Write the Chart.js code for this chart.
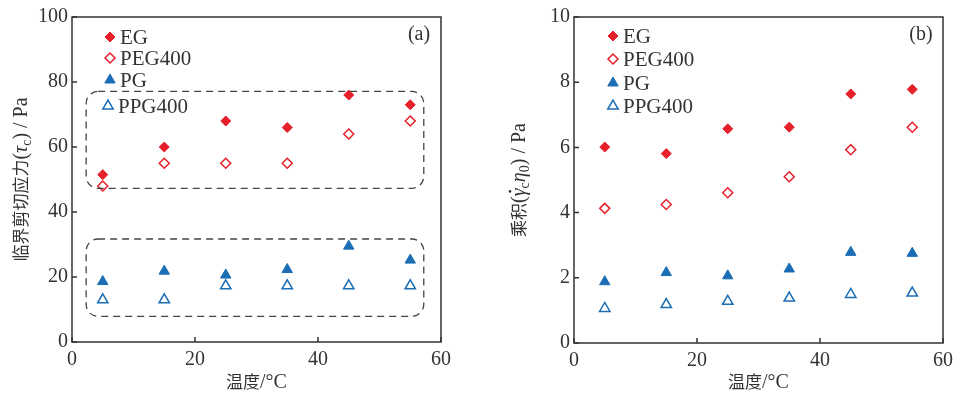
<!DOCTYPE html>
<html>
<head>
<meta charset="utf-8">
<script src="https://cdn.jsdelivr.net/npm/chart.js@4/dist/chart.umd.min.js"></script>
<style>
  html, body { margin: 0; padding: 0; background: #fff; }
  .wrap { position: absolute; top: 0; height: 394px; }
  #wa { left: 0; width: 480px; }
  #wb { left: 480px; width: 479px; }
</style>
</head>
<body>
<div class="wrap" id="wa"><canvas id="chartA"></canvas></div>
<div class="wrap" id="wb"><canvas id="chartB"></canvas></div>
<script>
// Data
const temps = [5, 15, 25, 35, 45, 55];
const seriesNames = ['EG', 'PEG400', 'PG', 'PPG400'];

// (a) critical shear stress, Pa
const tauEG = [51.5, 60, 68, 66, 76, 73];
const tauPEG = [48, 55, 55, 55, 64, 68];
const tauPG = [18.6, 21.8, 20.6, 22.3, 29.5, 25.2];
const tauPPG = [13, 13, 17.3, 17.3, 17.3, 17.3];

// (b) product gamma_c * eta_0, Pa
const prodEG = [6.01, 5.81, 6.57, 6.62, 7.64, 7.78];
const prodPEG = [4.13, 4.25, 4.61, 5.1, 5.93, 6.62];
const prodPG = [1.88, 2.16, 2.06, 2.27, 2.78, 2.75];
const prodPPG = [1.06, 1.18, 1.28, 1.38, 1.49, 1.53];

// dashed groups in panel (a), in data units
const boxesA = [
  { x0: 2.3, x1: 57.2, y0: 47.3, y1: 77.1 },
  { x0: 2.3, x1: 57.2, y0: 7.9, y1: 31.7 }
];

const RED = '#e5202a';
const BLUE = '#1b6db4';
const INK = '#333';
const SERIF = '"Liberation Serif", "DejaVu Serif", serif';
const CJK = '"Noto Sans CJK SC", sans-serif';

const styles = [
  { pointStyle: 'rectRot', fill: RED, stroke: RED, r: 5, bw: 1 },
  { pointStyle: 'rectRot', fill: '#fff', stroke: RED, r: 5, bw: 1.5 },
  { pointStyle: 'triangle', fill: BLUE, stroke: BLUE, r: 6, bw: 1 },
  { pointStyle: 'triangle', fill: '#fff', stroke: BLUE, r: 6, bw: 1.5 }
];

function drawMarker(ctx, s, x, y) {
  ctx.beginPath();
  if (s.pointStyle === 'rectRot') {
    ctx.moveTo(x, y - s.r);
    ctx.lineTo(x + s.r, y);
    ctx.lineTo(x, y + s.r);
    ctx.lineTo(x - s.r, y);
  } else {
    let rad = 0;
    for (let i = 0; i < 3; i++) {
      const px = x + Math.sin(rad) * s.r, py = y - Math.cos(rad) * s.r;
      i ? ctx.lineTo(px, py) : ctx.moveTo(px, py);
      rad += 2 * Math.PI / 3;
    }
  }
  ctx.closePath();
  ctx.fillStyle = s.fill;
  ctx.fill();
  ctx.lineWidth = s.bw;
  ctx.strokeStyle = s.stroke;
  ctx.stroke();
}

// mixed-font text (CJK + serif, subscripts), centred on cx,cy
function drawRuns(ctx, runs, cx, cy, rot) {
  ctx.save();
  ctx.translate(cx, cy);
  ctx.rotate(rot || 0);
  let total = 0;
  runs.forEach(r => { ctx.font = r.f; r.w = ctx.measureText(r.t).width; total += r.w; });
  let x = -total / 2;
  ctx.fillStyle = INK;
  ctx.textBaseline = 'alphabetic';
  ctx.textAlign = 'left';
  runs.forEach(r => {
    ctx.font = r.f;
    ctx.fillText(r.t, x, 6 + (r.dy || 0));
    if (r.dot) {
      // overdot for gamma
      ctx.beginPath();
      ctx.arc(x + r.w * 0.62, -9, 1.3, 0, Math.PI * 2);
      ctx.fill();
    }
    x += r.w;
  });
  ctx.restore();
}

const decor = {
  id: 'decor',
  afterDraw(chart, args, opts) {
    const { ctx, chartArea: a, scales: { x, y } } = chart;
    ctx.save();
    // frame
    ctx.strokeStyle = INK;
    ctx.lineWidth = 1.5;
    ctx.strokeRect(a.left, a.top, a.right - a.left, a.bottom - a.top);
    // inward ticks on bottom and left
    ctx.beginPath();
    x.ticks.forEach(t => {
      const px = x.getPixelForValue(t.value);
      ctx.moveTo(px, a.bottom); ctx.lineTo(px, a.bottom - 5);
    });
    y.ticks.forEach(t => {
      const py = y.getPixelForValue(t.value);
      ctx.moveTo(a.left, py); ctx.lineTo(a.left + 5, py);
    });
    ctx.stroke();
    // dashed group boxes
    (opts.boxes || []).forEach(b => {
      const l = x.getPixelForValue(b.x0), r = x.getPixelForValue(b.x1);
      const t = y.getPixelForValue(b.y1), btm = y.getPixelForValue(b.y0);
      ctx.beginPath();
      ctx.setLineDash([7, 5]);
      ctx.lineWidth = 1.3;
      ctx.strokeStyle = '#444';
      ctx.roundRect(l, t, r - l, btm - t, 12);
      ctx.stroke();
      ctx.setLineDash([]);
    });
    // legend
    opts.legend.forEach((row, i) => {
      drawMarker(ctx, styles[i], row[0], row[1]);
      ctx.font = '21px ' + SERIF;
      ctx.fillStyle = INK;
      ctx.textBaseline = 'middle';
      ctx.textAlign = 'left';
      ctx.fillText(seriesNames[i], row[0] + 10, row[1] + 1);
    });
    // panel label
    ctx.font = '20px ' + SERIF;
    ctx.textAlign = 'center';
    ctx.textBaseline = 'middle';
    ctx.fillText(opts.panel, a.right - 22, 35);
    ctx.restore();
    // axis titles
    drawRuns(ctx, [
      { t: '温度', f: '17px ' + CJK },
      { t: '/°C', f: '20px ' + SERIF }
    ], (a.left + a.right) / 2, 382, 0);
    drawRuns(ctx, opts.yTitle, opts.yTitleX, (a.top + a.bottom) / 2, -Math.PI / 2);
  }
};

function makeChart(id, sets, yMax, yStep, cfg) {
  const datasets = sets.map((vals, i) => ({
    label: seriesNames[i],
    data: temps.map((t, k) => ({ x: t, y: vals[k] })),
    pointStyle: styles[i].pointStyle,
    pointRadius: styles[i].r,
    pointHoverRadius: styles[i].r,
    pointBackgroundColor: styles[i].fill,
    pointBorderColor: styles[i].stroke,
    pointBorderWidth: styles[i].bw,
    showLine: false
  }));
  return new Chart(document.getElementById(id), {
    type: 'scatter',
    data: { datasets },
    options: {
      responsive: true,
      maintainAspectRatio: false,
      animation: false,
      events: [],
      layout: { padding: { top: 17, right: cfg.padRight, left: 0, bottom: 0 } },
      plugins: {
        legend: { display: false },
        tooltip: { enabled: false },
        decor: cfg.decor
      },
      scales: {
        x: {
          min: 0, max: 60,
          afterFit: s => { s.height = cfg.xHeight; },
          grid: { display: false, drawTicks: false },
          border: { display: false },
          ticks: { stepSize: 20, padding: 6, color: INK, font: { family: SERIF, size: 20 } }
        },
        y: {
          min: 0, max: yMax,
          afterFit: s => { s.width = cfg.yWidth; },
          grid: { display: false, drawTicks: false },
          border: { display: false },
          ticks: { stepSize: yStep, padding: 4, color: INK, font: { family: SERIF, size: 20 } }
        }
      }
    },
    plugins: [decor]
  });
}

makeChart('chartA', [tauEG, tauPEG, tauPG, tauPPG], 100, 20, {
  padRight: 39, xHeight: 52, yWidth: 72,
  decor: {
    panel: '(a)',
    boxes: boxesA,
    legend: [[110, 37], [110, 58], [110, 80], [108, 106]],
    yTitleX: 21,
    yTitle: [
      { t: '临界剪切应力', f: '17px ' + CJK },
      { t: '(', f: '20px ' + SERIF },
      { t: 'τ', f: 'italic 20px ' + SERIF },
      { t: 'c', f: '14px ' + SERIF, dy: 4 },
      { t: ') / Pa', f: '20px ' + SERIF }
    ]
  }
});

makeChart('chartB', [prodEG, prodPEG, prodPG, prodPPG], 10, 2, {
  padRight: 8, xHeight: 51, yWidth: 94,
  decor: {
    panel: '(b)',
    boxes: [],
    legend: [[133, 36], [133, 59], [133, 83], [133, 106]],
    yTitleX: 39,
    yTitle: [
      { t: '乘积', f: '17px ' + CJK },
      { t: '(', f: '20px ' + SERIF },
      { t: 'γ', f: 'italic 20px ' + SERIF, dot: true },
      { t: 'c', f: '14px ' + SERIF, dy: 4 },
      { t: 'η', f: 'italic 20px ' + SERIF },
      { t: '0', f: '14px ' + SERIF, dy: 4 },
      { t: ') / Pa', f: '20px ' + SERIF }
    ]
  }
});
</script>
</body>
</html>
